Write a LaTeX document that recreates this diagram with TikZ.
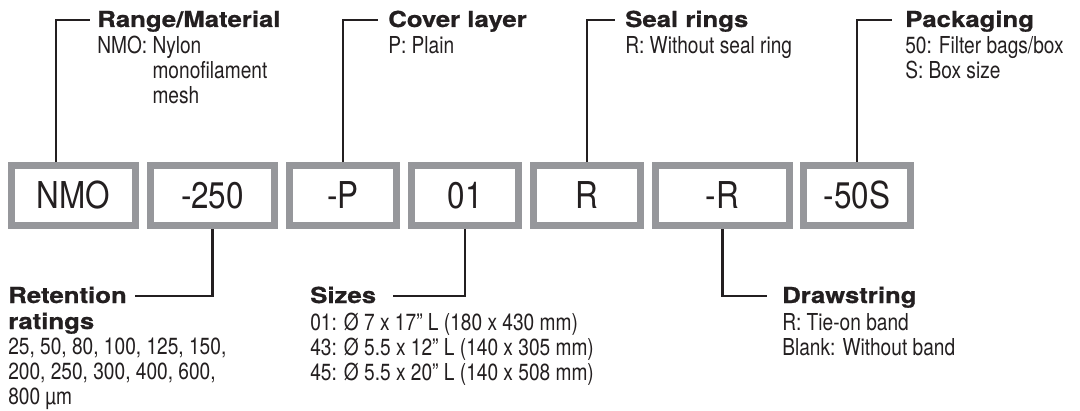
\documentclass[tikz,border=0pt]{standalone}
\usepackage{fontspec}
\usepackage{tikz}
\usetikzlibrary{calc}
\setmainfont{TeX Gyre Heros}
\newfontfamily\codefont[FakeStretch=0.85]{TeX Gyre Heros}
\newfontfamily\notefont[FakeStretch=0.82]{TeX Gyre Heros}
\newfontfamily\headfont[FakeStretch=1.17, FakeBold=0.8]{TeX Gyre Heros}
\definecolor{boxgray}{RGB}{150,151,155}
\definecolor{ink}{RGB}{35,31,32}

\begin{document}
\begin{tikzpicture}[x=0.75pt, y=-0.75pt,
        lead/.style={draw=ink, line width=1.6pt},
        head/.style={inner sep=0pt, anchor=base west, text=ink, text height=11pt, text depth=0pt,
                font=\headfont\bfseries\fontsize{16.5pt}{19.5pt}\selectfont},
        body/.style={inner sep=0pt, anchor=north west, align=left, text=ink,
                font=\notefont\fontsize{17.5pt}{18.75pt}\selectfont}]
        \useasboundingbox (0,0) rectangle (1080,410);
        % code boxes
        \begin{scope}[every node/.style={draw=boxgray, line width=5.25pt, fill=white, minimum height=45pt,
                        inner sep=0pt, text=ink, font=\codefont\fontsize{27.75pt}{30pt}\selectfont}]
                \node[minimum width=93pt] (nmo) at (73.5,195.5) {NMO};
                \node[minimum width=93pt] (ret) at (212.5,195.5) {-250};
                \node[minimum width=80.25pt] (cov) at (343,195.5) {-P};
                \node[minimum width=80.25pt] (siz) at (465,195.5) {01};
                \node[minimum width=80.25pt] (seal) at (587,195.5) {R};
                \node[minimum width=100.5pt] (drw) at (722.5,195.5) {-R};
                \node[minimum width=80.25pt] (pack) at (857,195.5) {-50S};
        \end{scope}
        % labels above
        \node[head] (rngH) at (97,27) {Range/Material};
        \node[body] (rngB) at (97,36) {NMO: Nylon\\\phantom{NMO: }monofilament\\\phantom{NMO: }mesh};
        \node[head] (covH) at (388,27) {Cover layer};
        \node[body] (covB) at (388,36) {P: Plain};
        \node[head] (sealH) at (625,27) {Seal rings};
        \node[body] (sealB) at (625,36) {R: Without seal ring};
        \node[head] (packH) at (905,27) {Packaging};
        \node[body] (packB) at (905,36) {50: Filter bags/box\\S: Box size};
        % labels below
        \node[head] (retH) at (8,303) {Retention};
        \node[head] (retH2) at (8,329) {ratings};
        \node[body] (retB) at (8,338) {25, 50, 80, 100, 125, 150,\\200, 250, 300, 400, 600,\\800 µm};
        \node[head] (sizH) at (310,303) {Sizes};
        \node[body] (sizB) at (310,313) {01: Ø 7 x 17” L (180 x 430 mm)\\43: Ø 5.5 x 12” L (140 x 305 mm)\\45: Ø 5.5 x 20” L (140 x 508 mm)};
        \node[head] (drwH) at (782,303) {Drawstring};
        \node[body] (drwB) at (782,313) {R: Tie-on band\\Blank: Without band};
        % leader lines
        \draw[lead] ($(nmo.north)+(-17.5,0)$) |- ($(rngH.west)+(-7,0)$);
        \draw[lead] (cov.north) |- ($(covH.west)+(-10,0)$);
        \draw[lead] (seal.north) |- ($(sealH.west)+(-10,0)$);
        \draw[lead] (pack.north) |- ($(packH.west)+(-13,0)$);
        \draw[lead] (ret.south) |- ($(retH.east)+(8,0)$);
        \draw[lead] (siz.south) |- ($(sizH.east)+(17,0)$);
        \draw[lead] (drw.south) |- ($(drwH.west)+(-15,0)$);
\end{tikzpicture}
\end{document}
